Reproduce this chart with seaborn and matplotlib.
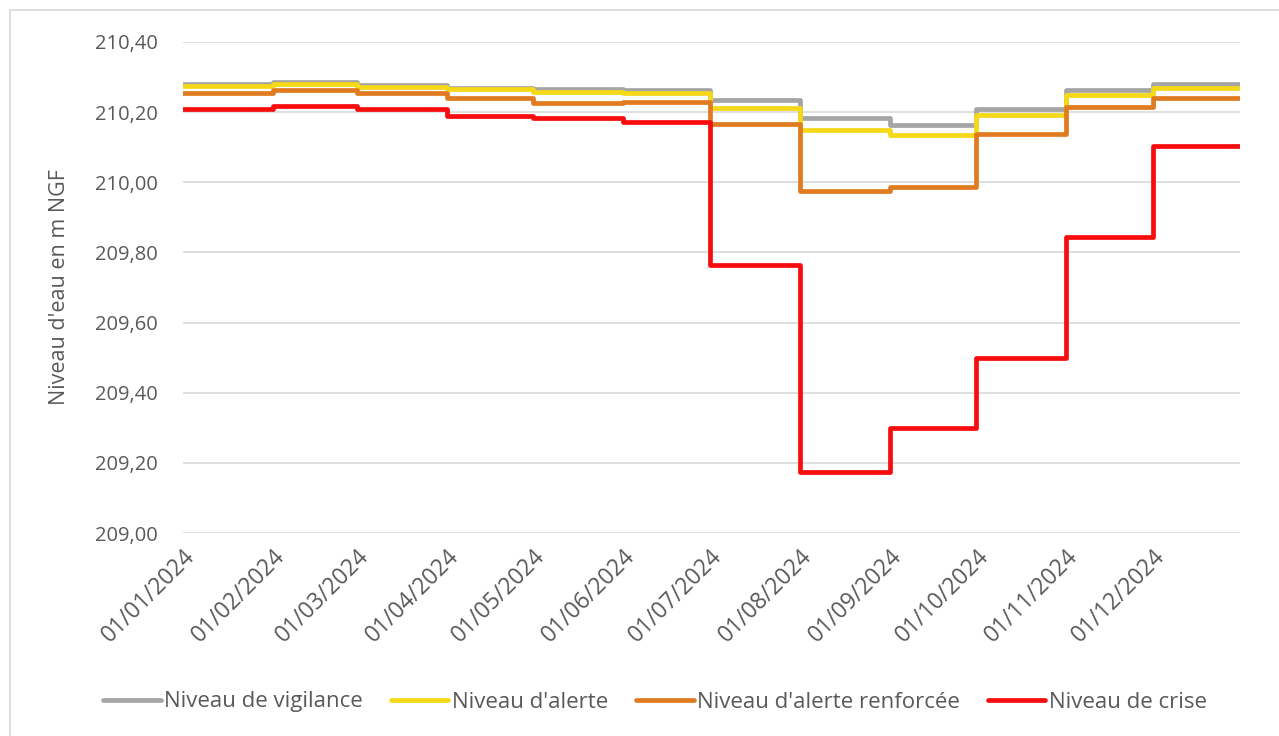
import pandas as pd
import seaborn as sns
import matplotlib.pyplot as plt
import matplotlib.dates as mdates
from matplotlib.patches import Rectangle

# Données : seuils mensuels (m NGF) pour 2024
mois = pd.date_range("2024-01-01", periods=12, freq="MS")
fin = pd.Timestamp("2024-12-31")

vigilance = [210.28, 210.285, 210.278, 210.27, 210.265, 210.262,
             210.235, 210.183, 210.163, 210.21, 210.262, 210.28]
alerte = [210.275, 210.28, 210.272, 210.265, 210.258, 210.255,
          210.212, 210.148, 210.135, 210.192, 210.248, 210.27]
renforcee = [210.255, 210.262, 210.255, 210.24, 210.226, 210.228,
             210.166, 209.975, 209.986, 210.137, 210.215, 210.24]
crise = [210.21, 210.217, 210.21, 210.188, 210.182, 210.172,
         209.765, 209.175, 209.3, 209.5, 209.843, 210.103]

series = {
    "Niveau de vigilance": vigilance,
    "Niveau d'alerte": alerte,
    "Niveau d'alerte renforcée": renforcee,
    "Niveau de crise": crise,
}
couleurs = ["#A5A5A5", "#F5D816", "#E07B20", "#F70D0D"]

rows = []
for nom, vals in series.items():
    dates = list(mois) + [fin]
    for d, v in zip(dates, vals + [vals[-1]]):
        rows.append({"date": d, "niveau": v, "serie": nom})
df = pd.DataFrame(rows)

sns.set_style("white")
plt.rcParams["font.family"] = ["Open Sans", "DejaVu Sans"]

fig = plt.figure(figsize=(12.79, 7.36), dpi=100)
ax = fig.add_axes([183 / 1279, 1 - 533 / 736, (1240 - 183) / 1279, (533 - 42) / 736])

sns.lineplot(data=df, x="date", y="niveau", hue="serie", hue_order=list(series),
             palette=couleurs, estimator=None, drawstyle="steps-post",
             linewidth=3.4, legend=False, ax=ax)

ax.set_xlim(pd.Timestamp("2024-01-01"), fin)
ax.set_ylim(209.0, 210.40)
ax.set_yticks([209.0 + 0.2 * i for i in range(8)])
ax.yaxis.set_major_formatter(plt.FuncFormatter(lambda v, p: f"{v:.2f}".replace(".", ",")))
ax.xaxis.set_major_locator(mdates.MonthLocator())
ax.xaxis.set_major_formatter(mdates.DateFormatter("%d/%m/%Y"))
plt.setp(ax.get_xticklabels(), rotation=45, ha="right", rotation_mode="anchor")

ax.grid(axis="y", color="#D9D9D9", linewidth=1.2)
ax.grid(axis="x", visible=False)
for s in ax.spines.values():
    s.set_visible(False)
ax.tick_params(axis="both", length=0, colors="#595959")
ax.tick_params(axis="y", pad=18, labelsize=14.5)
ax.tick_params(axis="x", pad=8, labelsize=16.5)
ax.set_xlabel("")
ax.set_ylabel("Niveau d'eau en m NGF", fontsize=15.5, color="#595959", labelpad=18)

ax.legend(ax.get_lines()[:4], list(series), loc="center", ncol=4,
          bbox_to_anchor=(0.512, 1 - 702 / 736), bbox_transform=fig.transFigure,
          frameon=False, fontsize=16, handlelength=2.6, handletextpad=0.15,
          columnspacing=1.25, labelcolor="#595959")

fig.patches.append(Rectangle((10 / 1279, -0.02), 1.0, 1 - 10 / 736 + 0.02,
                             transform=fig.transFigure, fill=False,
                             edgecolor="#D9D9D9", linewidth=1.2))

fig.savefig("out.png", dpi=100)
